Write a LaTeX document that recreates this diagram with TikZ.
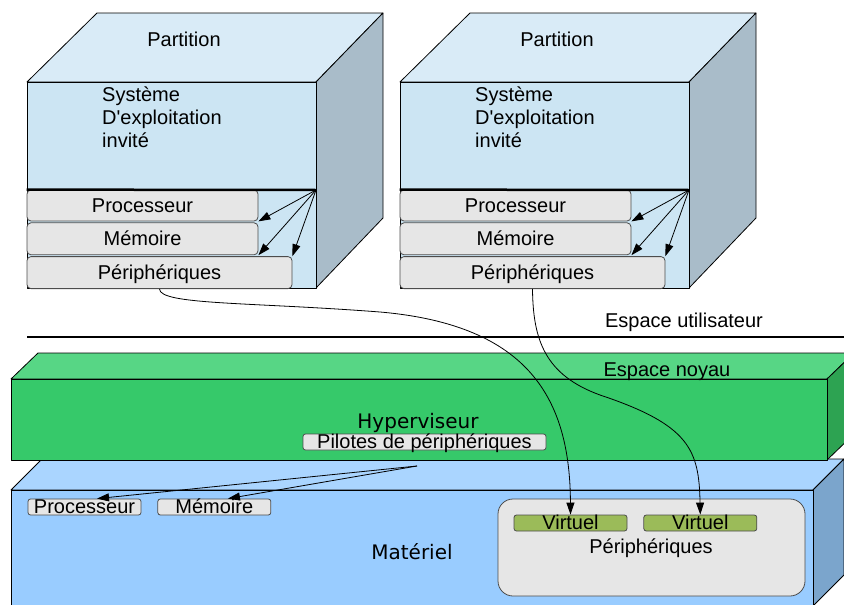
\documentclass[tikz,border=0pt]{standalone}
\usepackage{fontspec}
\setmainfont{Liberation Sans}
\newfontfamily\hypfont{DejaVu Sans}
\usetikzlibrary{positioning,calc,arrows.meta}

\definecolor{parttop}{HTML}{D9EBF7}
\definecolor{partfront}{HTML}{CCE5F3}
\definecolor{partside}{HTML}{A9BCC9}
\definecolor{boxgray}{HTML}{E6E6E6}
\definecolor{hyptop}{HTML}{57D685}
\definecolor{hypfront}{HTML}{36C96A}
\definecolor{hypside}{HTML}{2DA352}
\definecolor{hwtop}{HTML}{AAD5FF}
\definecolor{hwfront}{HTML}{99CCFF}
\definecolor{hwside}{HTML}{7BA5CC}
\definecolor{virtgreen}{HTML}{9BBB59}

\begin{document}
\begin{tikzpicture}[x=1pt,y=-1pt,>={Triangle[length=12pt,width=8pt]},
	font=\fontsize{20}{23}\selectfont,
	face/.style={draw=black,line width=0.8pt,line join=round},
	pbox/.style={draw=black!70,fill=boxgray,rounded corners=4pt,inner sep=0pt,text height=13pt,text depth=0pt,line width=0.8pt},
	hwbox/.style={pbox,rounded corners=2.5pt,minimum height=16pt},
	link/.style={->,line width=0.8pt}]
	\useasboundingbox (0,0) rectangle (844,605);
	\clip (0,0) rectangle (844,605);
	% the two partitions
	\foreach \i/\dx in {1/0,2/373}{
	\begin{scope}[xshift=\dx]
		\filldraw[face,fill=parttop] (27,82) -- (97,13) -- (383,13) -- (316,82) -- cycle;
		\filldraw[face,fill=partside] (316,82) -- (383,13) -- (383,218) -- (316,288) -- cycle;
		\filldraw[face,fill=partfront] (27,82) rectangle (316,288);
		\node[anchor=base,inner sep=0pt] (title\i) at (184,46) {Partition};
		\node[anchor=north west,align=left,inner sep=0pt] (os\i) at (102,87) {Système\\D\textquotesingle exploitation\\invité};
		\node[pbox,minimum width=231pt,minimum height=31pt] (proc\i) at (142.5,205.5) {Processeur};
		\node[pbox,minimum width=231pt,minimum height=32pt,below=1pt of proc\i] (mem\i) {Mémoire};
		\node[pbox,minimum width=265pt,minimum height=32pt,below=1pt of mem\i.south west,anchor=north west] (peri\i) {Périphériques};
		\coordinate (src\i) at (316,190);
		\draw[line width=2.5pt] (proc\i.north west) -- (src\i);
		\draw[link] (src\i) -- (proc\i.south east);
		\draw[link] (src\i) -- (mem\i.south east);
		\draw[link] (src\i) -- (peri\i.north east);
	\end{scope}
	}
	% user / kernel space
	\draw[line width=2.5pt] (27,337) -- (844,337);
	\node[anchor=base,inner sep=0pt] (user) at (684,327) {Espace utilisateur};
	% hardware
	\filldraw[face,fill=hwtop] (11,490) -- (42,459) -- (844,459) -- (813,490) -- cycle;
	\filldraw[face,fill=hwside] (813,490) -- (844,459) -- (844,575) -- (813,606) -- cycle;
	\filldraw[face,fill=hwfront] (11,490) rectangle (813,606);
	% hypervisor
	\filldraw[face,fill=hyptop] (11,379) -- (38,353) -- (854,353) -- (827,379) -- cycle;
	\filldraw[face,fill=hypside] (827,379) -- (854,353) -- (854,434) -- (827,460) -- cycle;
	\filldraw[face,fill=hypfront] (11,379) rectangle (827,460);
	\node[anchor=base,inner sep=0pt] (kernel) at (667,376) {Espace noyau};
	\node[anchor=base,inner sep=0pt,font=\hypfont\fontsize{20}{23}\selectfont] (hyp) at (418,428) {Hyperviseur};
	\node[hwbox,minimum width=243pt] (drivers) at (424.5,442) {Pilotes de périphériques};
	\node[anchor=base,inner sep=0pt,font=\hypfont\fontsize{20}{23}\selectfont] (hw) at (412,559) {Matériel};
	\node[hwbox,minimum width=113pt] (hwproc) at (84.5,507) {Processeur};
	\node[hwbox,minimum width=113pt,right=16pt of hwproc] (hwmem) {Mémoire};
	\coordinate (drvsrc) at (417,466);
	\draw[link] (drvsrc) -- ($(hwproc.north west)!0.61!(hwproc.north east)$);
	\draw[link] (drvsrc) -- ($(hwmem.north west)!0.62!(hwmem.north east)$);
	\node[draw=black!70,fill=boxgray,rounded corners=15pt,line width=0.8pt,minimum width=307pt,minimum height=97pt] (hwperi) at (651.5,547.5) {};
	\node[anchor=base,inner sep=0pt] (hwperilbl) at (651,553) {Périphériques};
	\node[hwbox,fill=virtgreen,minimum width=113pt] (virt1) at (570.5,523) {Virtuel};
	\node[hwbox,fill=virtgreen,minimum width=113pt,right=16pt of virt1] (virt2) {Virtuel};
	% virtual devices
	\draw[link] (peri1.south) .. controls (160,305) and (250,302) .. (380,312) .. controls (530,325) and (570,400) .. (virt1.north);
	\draw[link] (peri2.south) .. controls (533,340) and (545,375) .. (600,395) .. controls (690,425) and (699,450) .. (virt2.north);
\end{tikzpicture}
\end{document}
